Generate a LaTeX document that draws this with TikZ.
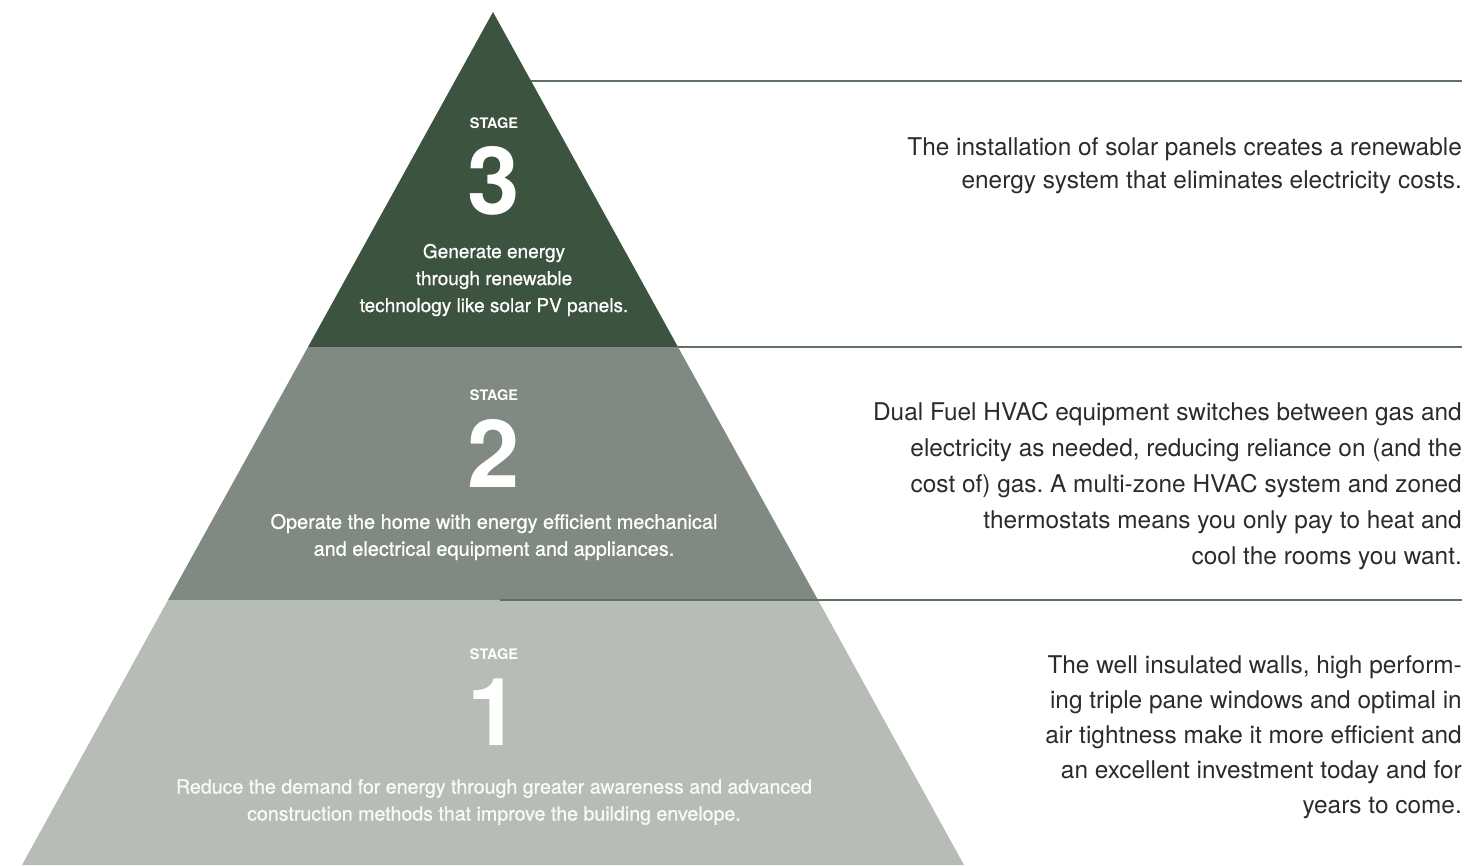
\documentclass[tikz,border=0pt]{standalone}
\usepackage{fontspec}
\setmainfont{TeX Gyre Heros}
\newfontfamily\medfont[FakeBold=0.8]{TeX Gyre Heros}
\frenchspacing

\definecolor{stagethree}{HTML}{3C5340}
\definecolor{stagetwo}{HTML}{818A82}
\definecolor{stageone}{HTML}{B7BCB7}
\definecolor{ruleline}{HTML}{5E715F}
\definecolor{bodytext}{HTML}{2B2B2B}

\begin{document}
\begin{tikzpicture}[x=1pt, y=-1pt]

      \tikzset{stagetag/.style={inner sep=0pt, text=white, font=\bfseries\fontsize{14.5}{16}\selectfont},
               stagenum/.style={inner sep=0pt, text=white, font=\bfseries\fontsize{94}{94}\selectfont},
               stagedesc/.style={inner sep=0pt, align=center, text=white},
               sidetext/.style={inner sep=0pt, anchor=east, align=right, text=bodytext},
               rule/.style={draw=ruleline, line width=1.3pt}}
      \useasboundingbox (0,0) rectangle (1470,865);
%% Pyramid
      	\fill[stagethree] (493,12) -- (678,347) -- (308,347) -- cycle;
      	\fill[stagetwo] (308,347) -- (678,347) -- (818,600) -- (168,600) -- cycle;
      	\fill[stageone] (168,600) -- (818,600) -- (964,865) -- (22,865) -- cycle;
%% Stages
      	\node[stagetag] (tag3) at (494,123) {STAGE};
      	\node[stagenum] (num3) at (494,181) {3};
      	\node[stagedesc, font=\medfont\fontsize{19}{27}\selectfont] (desc3) at (494,280) {Generate energy\\through renewable\\technology like solar PV panels.};
      	\node[stagetag] (tag2) at (494,395) {STAGE};
      	\node[stagenum] (num2) at (494,453) {2};
      	\node[stagedesc, font=\medfont\fontsize{19.9}{27}\selectfont] (desc2) at (494,537) {Operate the home with energy efficient mechanical\\and electrical equipment and appliances.};
      	\node[stagetag] (tag1) at (494,654) {STAGE};
      	\node[stagenum] (num1) at (494,712) {1};
      	\node[stagedesc, text=white!92!stageone, font=\medfont\fontsize{19.6}{27}\selectfont] (desc1) at (494,802) {Reduce the demand for energy through greater awareness and advanced\\construction methods that improve the building envelope.};
%Rules
      	\coordinate (r3a) at (531,81);   \coordinate (r3b) at (1462,81);
      	\coordinate (r2a) at (678,347);  \coordinate (r2b) at (1462,347);
      	\coordinate (r1a) at (500,600);  \coordinate (r1b) at (1462,600);
		\draw[rule] (r3a) -- (r3b);
		\draw[rule] (r2a) -- (r2b);
		\draw[rule] (r1a) -- (r1b);
%Side texts
      	\node[sidetext, font=\fontsize{24.4}{33}\selectfont] (side3) at (1462,166) {The installation of solar panels creates a renewable\\energy system that eliminates electricity costs.};
      	\node[sidetext, font=\fontsize{24.4}{36}\selectfont] (side2) at (1462,486) {Dual Fuel HVAC equipment switches between gas and\\electricity as needed, reducing reliance on (and the\\cost of) gas. A multi-zone HVAC system and zoned\\thermostats means you only pay to heat and\\cool the rooms you want.};
      	\node[sidetext, font=\fontsize{24.4}{35}\selectfont] (side1) at (1462,737) {The well insulated walls, high perform-\\ing triple pane windows and optimal in\\air tightness make it more efficient and\\an excellent investment today and for\\years to come.};

	\end{tikzpicture}
\end{document}
